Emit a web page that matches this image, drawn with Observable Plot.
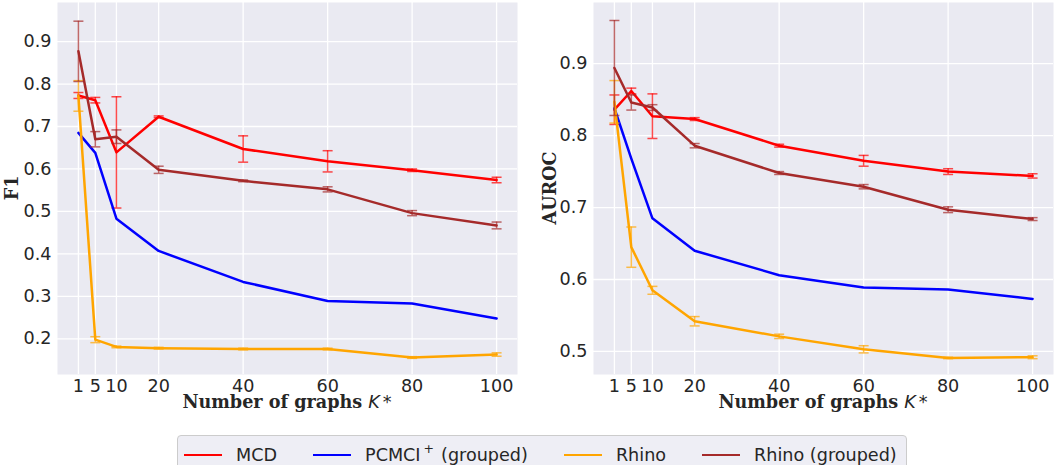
<!DOCTYPE html>
<html>
<head>
<meta charset="utf-8">
<script src="https://cdn.jsdelivr.net/npm/d3@7"></script>
<script src="https://cdn.jsdelivr.net/npm/@observablehq/plot@0.6"></script>
<style>
  body { margin: 0; background: #ffffff; }
  #wrap { position: relative; width: 1060px; height: 465px; overflow: hidden; }
  #panels { display: flex; }
  #legend {
    position: absolute; left: 177px; top: 435px;
    box-sizing: border-box; height: 34px;
    padding: 6px 9px 0 6px;
    border: 1px solid #cccccc; border-radius: 4px;
    background: #eeeef5;
    display: flex; align-items: center;
    font-family: "DejaVu Sans"; font-size: 17.6px; color: #262626;
    white-space: nowrap;
  }
  .item { display: flex; align-items: center; height: 20px; }
  .item + .item { margin-left: 36px; }
  .swatch { display: inline-block; width: 38px; height: 2.5px; margin-right: 14px; }
  .sup { font-size: 12.5px; position: relative; top: -7px; margin: 0 7px 0 3px; }
</style>
</head>
<body>
<div id="wrap">
  <div id="panels"></div>
  <div id="legend"></div>
</div>
<script>
// Number of graphs K* on the x axis
const ks = [1, 5, 10, 20, 40, 60, 80, 100];

const methods = ["MCD", "PCMCI+ (grouped)", "Rhino", "Rhino (grouped)"];
const colors = ["red", "blue", "orange", "brown"];

// F1 (mean, error half-width)
const f1Mcd = [0.773, 0.762, 0.639, 0.723, 0.647, 0.618, 0.597, 0.574];
const f1McdErr = [0.007, 0.0065, 0.131, 0.002, 0.031, 0.025, 0.003, 0.0065];
const f1Pcmci = [0.685, 0.638, 0.483, 0.407, 0.334, 0.289, 0.283, 0.248];
const f1Rhino = [0.772, 0.198, 0.181, 0.178, 0.176, 0.176, 0.156, 0.163];
const f1RhinoErr = [0.036, 0.007, 0.002, 0.002, 0.002, 0.002, 0.002, 0.004];
const f1RhinoG = [0.877, 0.670, 0.676, 0.598, 0.572, 0.552, 0.496, 0.467];
const f1RhinoGErr = [0.071, 0.018, 0.016, 0.0085, 0.002, 0.006, 0.006, 0.008];

// AUROC (mean, error half-width)
const aucMcd = [0.836, 0.862, 0.827, 0.823, 0.786, 0.765, 0.750, 0.744];
const aucMcdErr = [0.0205, 0.004, 0.031, 0.002, 0.002, 0.0075, 0.004, 0.003];
const aucPcmci = [0.838, 0.768, 0.685, 0.640, 0.606, 0.589, 0.586, 0.573];
const aucRhino = [0.847, 0.645, 0.585, 0.542, 0.521, 0.503, 0.491, 0.492];
const aucRhinoErr = [0.0295, 0.028, 0.0055, 0.0065, 0.003, 0.005, 0.001, 0.002];
const aucRhinoG = [0.894, 0.846, 0.839, 0.786, 0.748, 0.729, 0.697, 0.684];
const aucRhinoGErr = [0.066, 0.0105, 0.004, 0.003, 0.002, 0.003, 0.004, 0.002];

const f1Ticks = [0.2, 0.3, 0.4, 0.5, 0.6, 0.7, 0.8, 0.9];
const aucTicks = [0.5, 0.6, 0.7, 0.8, 0.9];

function rows(values, errors, method) {
  return ks.map((k, i) => ({k, v: values[i], e: errors ? errors[i] : null, method}));
}

// horizontal cap drawn at the ends of each error bar
const cap = {draw(context) { context.moveTo(-5, 0); context.lineTo(5, 0); }};

function panel({series, yDomain, yTicks, yTitle, marginLeft, marginRight, yTitleX}) {
  const width = 530, height = 425, marginTop = 2, marginBottom = 51;
  const marks = [
    Plot.frame({fill: "#EAEAF2", stroke: "none"}),
    Plot.gridX(ks, {stroke: "white", strokeOpacity: 1, strokeWidth: 1.3}),
    Plot.gridY(yTicks, {stroke: "white", strokeOpacity: 1, strokeWidth: 1.3}),
    Plot.axisX(ks, {tickSize: 0, tickPadding: 5, label: null}),
    Plot.axisY(yTicks, {tickSize: 0, tickPadding: 6, label: null, tickFormat: d3.format(".1f")})
  ];
  series.forEach((data, i) => {
    const withErr = data.filter(d => d.e != null);
    const c = colors[i];
    marks.push(
      Plot.ruleX(withErr, {x: "k", y1: d => d.v - d.e, y2: d => d.v + d.e, stroke: c, strokeOpacity: 0.7, strokeWidth: 1.5}),
      Plot.dot(withErr, {x: "k", y: d => d.v - d.e, symbol: cap, fill: "none", stroke: c, strokeOpacity: 0.7, strokeWidth: 1.5}),
      Plot.dot(withErr, {x: "k", y: d => d.v + d.e, symbol: cap, fill: "none", stroke: c, strokeOpacity: 0.7, strokeWidth: 1.5}),
      Plot.line(data, {x: "k", y: "v", stroke: c, strokeWidth: 2.5})
    );
  });
  const svg = Plot.plot({
    width, height, marginTop, marginBottom, marginLeft, marginRight,
    style: "font-family:'DejaVu Sans';font-size:17.6px;color:#262626;background:transparent;overflow:visible;",
    x: {domain: [-3.95, 104.95]},
    y: {domain: yDomain},
    marks
  });
  const s = d3.select(svg);
  const cx = marginLeft + (width - marginLeft - marginRight) / 2;
  const xt = s.append("text")
    .attr("x", cx).attr("y", 408).attr("text-anchor", "middle")
    .attr("fill", "#262626").style("font-size", "17.6px");
  xt.append("tspan").style("font-family", "'DejaVu Serif'").style("font-weight", "bold").text("Number of graphs ");
  xt.append("tspan").style("font-family", "'DejaVu Sans'").style("font-style", "italic").text("K");
  xt.append("tspan").style("font-family", "'DejaVu Sans'").attr("dx", 3).text("*");
  s.append("text")
    .attr("transform", `translate(${yTitleX},${marginTop + (height - marginTop - marginBottom) / 2}) rotate(-90)`)
    .attr("text-anchor", "middle").attr("fill", "#262626")
    .style("font-family", "'DejaVu Serif'").style("font-weight", "bold").style("font-size", "17.6px")
    .text(yTitle);
  return svg;
}

const panels = document.getElementById("panels");
panels.append(panel({
  series: [rows(f1Mcd, f1McdErr), rows(f1Pcmci, null), rows(f1Rhino, f1RhinoErr), rows(f1RhinoG, f1RhinoGErr)],
  yDomain: [0.116, 0.992], yTicks: f1Ticks, yTitle: "F1",
  marginLeft: 57, marginRight: 13, yTitleX: 18
}));
panels.append(panel({
  series: [rows(aucMcd, aucMcdErr), rows(aucPcmci, null), rows(aucRhino, aucRhinoErr), rows(aucRhinoG, aucRhinoGErr)],
  yDomain: [0.468, 0.985], yTicks: aucTicks, yTitle: "AUROC",
  marginLeft: 63, marginRight: 7, yTitleX: 26
}));

// legend
const legend = d3.select("#legend");
methods.forEach((m, i) => {
  const item = legend.append("div").attr("class", "item");
  item.append("span").attr("class", "swatch").style("background", colors[i]);
  if (m.startsWith("PCMCI+")) {
    item.append("span").text("PCMCI");
    item.append("span").attr("class", "sup").text("+");
    item.append("span").text(m.slice(7));
  } else {
    item.append("span").text(m);
  }
});
</script>
</body>
</html>
